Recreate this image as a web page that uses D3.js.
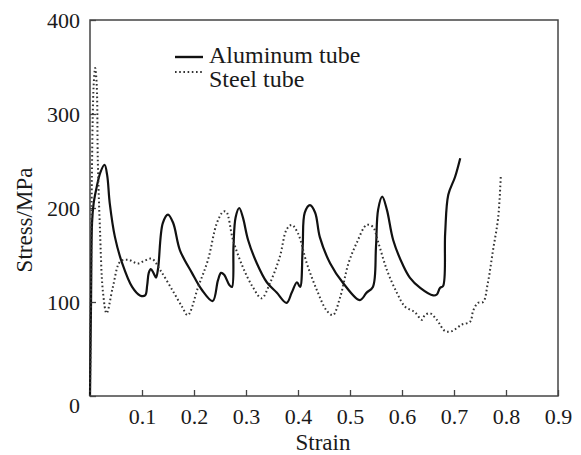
<!DOCTYPE html>
<html><head><meta charset="utf-8">
<script src="https://cdn.jsdelivr.net/npm/d3@7/dist/d3.min.js"></script>
<style>body{margin:0;background:#fff}svg{display:block}
svg text{font-family:"Liberation Serif","Times New Roman",Times,"DejaVu Serif",serif;fill:#1a1a1a}</style>
</head><body>
<svg id="c" width="581" height="455"></svg>
<script>
const xTicks = [0.1,0.2,0.3,0.4,0.5,0.6,0.7,0.8,0.9];
const yTicks = [0,100,200,300,400];
const seriesNames = ["Aluminum tube","Steel tube"];
const aluminum = [[0,0],[0.002,100],[0.004,185],[0.007,205],[0.012,220],[0.02,238],[0.028,246],[0.033,235],[0.038,205],[0.048,169],[0.062,141],[0.081,116],[0.096,107],[0.106,107],[0.110,118],[0.113,131],[0.117,135],[0.122,131],[0.127,126],[0.131,136],[0.140,184],[0.150,193],[0.160,184],[0.173,155],[0.196,131],[0.215,113],[0.236,101],[0.246,123],[0.252,131],[0.258,129],[0.268,118],[0.273,116],[0.276,160],[0.280,190],[0.287,200],[0.294,190],[0.304,166],[0.321,141],[0.340,121],[0.359,110],[0.378,99],[0.388,110],[0.398,121],[0.404,116],[0.409,159],[0.413,195],[0.423,203],[0.433,195],[0.442,169],[0.462,141],[0.487,120],[0.519,102],[0.532,110],[0.544,116],[0.550,159],[0.554,198],[0.562,212],[0.571,198],[0.583,166],[0.602,139],[0.615,126],[0.635,115],[0.660,107],[0.667,108],[0.673,115],[0.679,117],[0.683,173],[0.689,214],[0.702,233],[0.712,253]];
const steel = [[0,0],[0.002,120],[0.004,250],[0.007,330],[0.010,349],[0.013,330],[0.015,251],[0.019,180],[0.025,110],[0.032,88],[0.044,116],[0.058,143],[0.073,145],[0.092,141],[0.105,144],[0.119,146],[0.135,134],[0.158,113],[0.177,95],[0.188,86],[0.208,116],[0.227,145],[0.244,184],[0.256,196],[0.262,196],[0.275,166],[0.294,137],[0.313,116],[0.330,104],[0.346,120],[0.365,148],[0.378,177],[0.388,182],[0.400,173],[0.417,141],[0.436,113],[0.455,91],[0.467,86],[0.481,105],[0.497,141],[0.513,163],[0.532,182],[0.544,180],[0.554,164],[0.571,134],[0.590,110],[0.606,95],[0.625,89],[0.638,81],[0.644,86],[0.654,88],[0.667,81],[0.683,69],[0.696,69],[0.715,76],[0.731,79],[0.737,91],[0.746,99],[0.756,100],[0.765,120],[0.775,155],[0.785,190],[0.790,235]];

const L=90,R=558,T=20,B=396;
const svg=d3.select("#c");
const x=d3.scaleLinear().domain([0,0.9]).range([L,R]);
const y=d3.scaleLinear().domain([0,400]).range([B,T]);

svg.append("rect").attr("x",L).attr("y",T).attr("width",R-L).attr("height",B-T)
  .attr("fill","none").attr("stroke","#444").attr("stroke-width",1.5);

const xa=svg.append("g").attr("transform",`translate(0,${B})`)
  .call(d3.axisBottom(x).tickValues(xTicks).tickSizeInner(-6).tickSizeOuter(0).tickPadding(12).tickFormat(d3.format(".1f")));
const ya=svg.append("g").attr("transform",`translate(${L},0)`)
  .call(d3.axisLeft(y).tickValues(yTicks).tickSizeInner(-6).tickSizeOuter(0).tickPadding(10).tickFormat(d3.format("d")));
[xa,ya].forEach(g=>{
  g.attr("font-family",null).attr("font-size",null);
  g.select(".domain").remove();
  g.selectAll("line").attr("stroke","#444").attr("stroke-width",1.3);
  g.selectAll("text").style("font-size","22px").attr("fill","#1a1a1a");
});
ya.selectAll(".tick").filter(d=>d===0).select("text").attr("dy","0.75em");

const line=d3.line().x(d=>x(d[0])).y(d=>y(d[1])).curve(d3.curveCatmullRom.alpha(0.5));
svg.append("path").datum(aluminum).attr("d",line).attr("fill","none")
  .attr("stroke","#111").attr("stroke-width",2.2);
svg.append("path").datum(steel).attr("d",line).attr("fill","none")
  .attr("stroke","#333").attr("stroke-width",2).attr("stroke-dasharray","1.6,2.6");

svg.append("text").attr("x",323).attr("y",450).attr("text-anchor","middle")
  .style("font-size","23px").text("Strain");
svg.append("text").attr("transform","translate(32,220) rotate(-90)").attr("text-anchor","middle")
  .style("font-size","23px").text("Stress/MPa");

const leg=[{name:seriesNames[0],ly:57,ty:63,dash:null,w:2.4},{name:seriesNames[1],ly:72,ty:87,dash:"1.6,2.6",w:2}];
leg.forEach((d,i)=>{
  svg.append("line").attr("x1",175).attr("x2",203).attr("y1",d.ly).attr("y2",d.ly)
    .attr("stroke",i?"#333":"#111").attr("stroke-width",d.w).attr("stroke-dasharray",d.dash);
  svg.append("text").attr("x",209).attr("y",d.ty).style("font-size","24px").text(d.name);
});
</script>
</body></html>
